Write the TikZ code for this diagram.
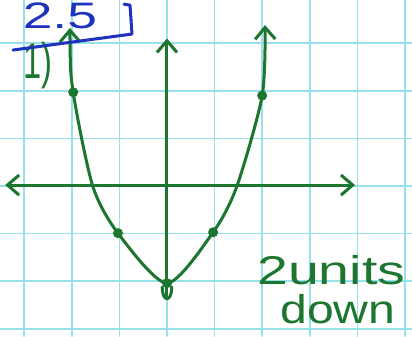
\documentclass[tikz,border=0pt]{standalone}
\usepackage{fontspec}
\setmainfont{Liberation Sans}
\usetikzlibrary{arrows.meta}
\definecolor{ink}{RGB}{28,118,48}
\definecolor{pen}{RGB}{30,50,190}
\definecolor{paper}{RGB}{150,225,235}

\begin{document}
\begin{tikzpicture}[>={Straight Barb[length=7pt,width=12pt]}, line cap=round, line join=round,
    curve/.style={ink, line width=1.8pt},
    dot/.style={circle, fill=ink, inner sep=0pt, minimum size=6pt},
    hand/.style={ink, anchor=base, inner sep=0pt, font=\fontsize{24}{24}\selectfont}]
    \useasboundingbox (-3.508,-3.151) rectangle (5.147,3.908);
    \fill[white] (-3.508,-3.151) rectangle (5.147,3.908);

    % Grid paper
    \draw[paper, line width=1pt] (-3.508,-3.151) grid (5.147,3.908);

    % Axes
    \draw[curve, <->] (-3.4,0.02) -- (3.95,0.02);
    \draw[curve, ->] (0,-2.35) -- (0,3.1);

    % Points of the graph
    \node[dot] (p1) at (-1.97,1.97) {};
    \node[dot] (p2) at (-1.03,-0.99) {};
    \node[dot] (v) at (0,-2.04) {};
    \node[dot] (p3) at (0.97,-0.97) {};
    \node[dot] (p4) at (2.0,1.9) {};

    % Parabola
    \draw[curve, <->] plot[smooth, tension=0.45] coordinates
        {(-2.04,3.32) (p1.center) (-1.56,0) (p2.center) (v.center)
         (p3.center) (1.47,0) (p4.center) (2.06,3.38)};
    \draw[curve] (-0.1,-2.12) .. controls (-0.1,-2.45) and (0.1,-2.45) .. (0.1,-2.12);

    % Labels
    \node[hand, xscale=1.38] (steps) at (3.45,-2.06) {2units};
    \node[hand, xscale=1.2] (dir) at (3.59,-2.88) {down};
    \node[ink, xscale=0.65, font=\fontsize{30}{30}\selectfont] (num) at (-2.71,2.54) {1)};

    % Answer
    \node[hand, pen, xscale=1.45, font=\fontsize{22}{22}\selectfont] (ans) at (-2.25,3.3) {2.5};
    \draw[pen, line width=1.8pt] (-3.235,2.857) -- (-0.735,3.193) -- (-0.777,3.80) -- (-0.903,3.82);
\end{tikzpicture}
\end{document}
